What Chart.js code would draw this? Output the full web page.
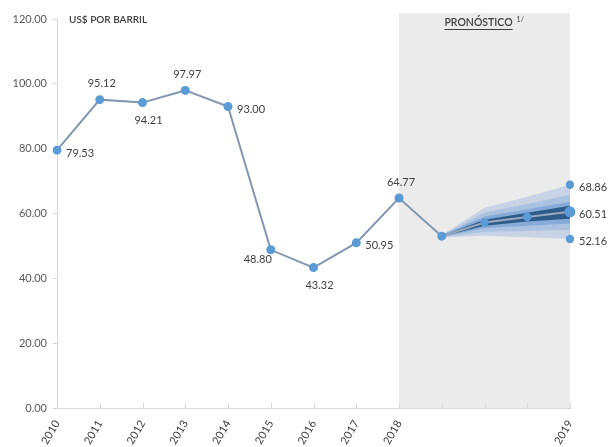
<!DOCTYPE html>
<html>
<head>
<meta charset="utf-8">
<script src="https://cdn.jsdelivr.net/npm/chart.js@4.4.1/dist/chart.umd.min.js"></script>
<style>
  html, body { margin: 0; padding: 0; background: #ffffff; }
  #wrap { width: 613px; height: 447px; }
</style>
</head>
<body>
<div id="wrap"><canvas id="c" width="613" height="447"></canvas></div>
<script>
// Year axis: nine observed years, three unlabeled forecast steps, then 2019
const years = ['2010', '2011', '2012', '2013', '2014', '2015', '2016', '2017', '2018', '', '', '', '2019'];

// Observed average price, US$ per barrel
const observed = [79.53, 95.12, 94.21, 97.97, 93.00, 48.80, 43.32, 50.95, 64.77];
const observedLabelSide = ['right', 'above', 'below', 'above', 'right', 'belowLeft', 'below', 'right', 'above'];

// Forecast path (central scenario) for the four steps after 2018
const forecastCentral = [53.0, 57.2, 58.9, 60.51];
const forecastHigh = 68.86;
const forecastLow = 52.16;

// Fan of confidence bands around the forecast, widest first
const fanOuterLow  = [52.6, 53.1, 52.7, 52.16];
const fanOuterHigh = [53.4, 61.8, 65.2, 68.86];
const fanMidLow    = [52.7, 54.4, 54.6, 54.9];
const fanMidHigh   = [53.3, 60.3, 62.9, 65.8];
const fanInnerLow  = [52.8, 55.5, 56.2, 56.9];
const fanInnerHigh = [53.2, 59.1, 61.3, 63.6];
const fanCoreLow   = [52.9, 56.2, 57.5, 58.4];
const fanCoreHigh  = [53.1, 58.1, 60.2, 62.4];

const nObs = observed.length;
const total = years.length;

function padForecast(arr) {
  const out = new Array(total).fill(null);
  arr.forEach((v, i) => { out[nObs + i] = v; });
  return out;
}

const historyLine = new Array(total).fill(null);
observed.forEach((v, i) => { historyLine[i] = v; });
historyLine[nObs] = forecastCentral[0];

const rangeEnds = new Array(total).fill(null);
const rangeEndsLow = new Array(total).fill(null);
rangeEnds[total - 1] = forecastHigh;
rangeEndsLow[total - 1] = forecastLow;

const LINE = '#8497b0';
const DOT = '#5b9bd5';
const TEXT = '#404040';
const AXIS = '#d9d9d9';
const FONT = 'Lato, "Open Sans", sans-serif';

// dots on the central path after its first step; the 2019 one is larger
const centralRadius = new Array(total).fill(0);
forecastCentral.forEach((v, i) => {
  if (i > 0) centralRadius[nObs + i] = (i === forecastCentral.length - 1) ? 5.5 : 4.2;
});

function bandPair(low, high, color, lowIndex) {
  return [
    { data: padForecast(low), borderWidth: 0, pointRadius: 0, fill: false, borderColor: 'transparent' },
    { data: padForecast(high), borderWidth: 0, pointRadius: 0, borderColor: 'transparent',
      backgroundColor: color, fill: { target: lowIndex } }
  ];
}

const datasets = [
  // 0: observed line joined to the first forecast step
  { data: historyLine, borderColor: LINE, borderWidth: 2, pointRadius: 4.5,
    pointBackgroundColor: DOT, pointBorderWidth: 0, fill: false },
  // 1: central forecast
  { data: padForecast(forecastCentral), borderColor: '#97a8c0', borderWidth: 2,
    pointRadius: centralRadius, pointBackgroundColor: DOT, pointBorderWidth: 0, fill: false },
  // 2, 3: upper / lower scenario ends
  { data: rangeEnds, showLine: false, pointRadius: 4.2, pointBackgroundColor: DOT, pointBorderWidth: 0 },
  { data: rangeEndsLow, showLine: false, pointRadius: 4.2, pointBackgroundColor: DOT, pointBorderWidth: 0 }
];
// bands from the core outward; lower-index datasets draw on top
datasets.push(...bandPair(fanCoreLow, fanCoreHigh, '#2f5b88', 4));
datasets.push(...bandPair(fanInnerLow, fanInnerHigh, '#86abd8', 6));
datasets.push(...bandPair(fanMidLow, fanMidHigh, '#abc2e0', 8));
datasets.push(...bandPair(fanOuterLow, fanOuterHigh, '#c8d4e5', 10));

const forecastShade = {
  id: 'forecastShade',
  beforeDatasetsDraw(chart) {
    const { ctx, chartArea, scales } = chart;
    const x0 = scales.x.getPixelForValue(nObs - 1);
    const x1 = scales.x.getPixelForValue(total - 1);
    ctx.save();
    ctx.fillStyle = '#ebebeb';
    ctx.fillRect(x0, chartArea.top - 6, x1 - x0, chartArea.bottom - chartArea.top + 6);
    // short inward tick marks on the category axis
    ctx.strokeStyle = AXIS;
    ctx.lineWidth = 1;
    for (let i = 0; i < total; i++) {
      const x = Math.round(scales.x.getPixelForValue(i)) + 0.5;
      ctx.beginPath();
      ctx.moveTo(x, chartArea.bottom);
      ctx.lineTo(x, chartArea.bottom - 5);
      ctx.stroke();
    }
    ctx.restore();
  }
};

const valueLabels = {
  id: 'valueLabels',
  afterDatasetsDraw(chart) {
    const { ctx, scales } = chart;
    const offsets = {
      right:     { dx: 9,   dy: 3,   align: 'left' },
      above:     { dx: 2,   dy: -16, align: 'center' },
      below:     { dx: 6,   dy: 18,  align: 'center' },
      belowLeft: { dx: -13, dy: 10,  align: 'center' }
    };
    ctx.save();
    ctx.font = '11px ' + FONT;
    ctx.fillStyle = TEXT;
    ctx.textBaseline = 'middle';
    const put = (idx, v, side) => {
      const o = offsets[side];
      ctx.textAlign = o.align;
      ctx.fillText(v.toFixed(2), scales.x.getPixelForValue(idx) + o.dx, scales.y.getPixelForValue(v) + o.dy);
    };
    observed.forEach((v, i) => put(i, v, observedLabelSide[i]));
    put(total - 1, forecastHigh, 'right');
    put(total - 1, forecastCentral[forecastCentral.length - 1], 'right');
    put(total - 1, forecastLow, 'right');
    ctx.restore();
  },
  afterDraw(chart) {
    const { ctx, chartArea, scales } = chart;
    ctx.save();
    ctx.fillStyle = TEXT;
    ctx.textBaseline = 'middle';
    ctx.textAlign = 'left';
    ctx.font = '600 10px ' + FONT;
    ctx.fillText('US$ POR BARRIL', chartArea.left + 12, chartArea.top + 1);

    const cx = (scales.x.getPixelForValue(nObs - 1) + scales.x.getPixelForValue(total - 1)) / 2;
    const title = 'PRONÓSTICO';
    ctx.font = '600 10.5px ' + FONT;
    const w = ctx.measureText(title).width;
    const tx = cx - w / 2 - 6;
    const ty = chartArea.top + 4;
    ctx.fillText(title, tx, ty);
    ctx.fillRect(tx, ty + 6, w, 1);
    ctx.font = '7px ' + FONT;
    ctx.fillText('1/', tx + w + 4, ty - 3);
    ctx.restore();
  }
};

new Chart(document.getElementById('c'), {
  type: 'line',
  data: { labels: years, datasets },
  options: {
    responsive: false,
    animation: false,
    devicePixelRatio: 1,
    layout: { padding: { top: 19, right: 43, left: 0, bottom: 0 } },
    plugins: { legend: { display: false }, tooltip: { enabled: false } },
    elements: { line: { tension: 0 } },
    scales: {
      x: {
        type: 'category',
        offset: false,
        grid: { display: true, drawOnChartArea: false, drawTicks: false, color: AXIS },
        border: { color: AXIS },
        ticks: { autoSkip: false, maxRotation: 60, minRotation: 60, padding: 10,
                 color: TEXT, font: { family: FONT, size: 11 } },
        afterFit(scale) { scale.height = 39; }
      },
      y: {
        min: 0, max: 120,
        grid: { display: true, drawOnChartArea: false, color: AXIS, tickLength: 4 },
        border: { color: AXIS },
        ticks: { stepSize: 20, padding: 6, color: '#595959',
                 font: { family: FONT, size: 11 },
                 callback: v => Number(v).toFixed(2) },
        afterFit(scale) { scale.width = 57; }
      }
    }
  },
  plugins: [forecastShade, valueLabels]
});
</script>
</body>
</html>
